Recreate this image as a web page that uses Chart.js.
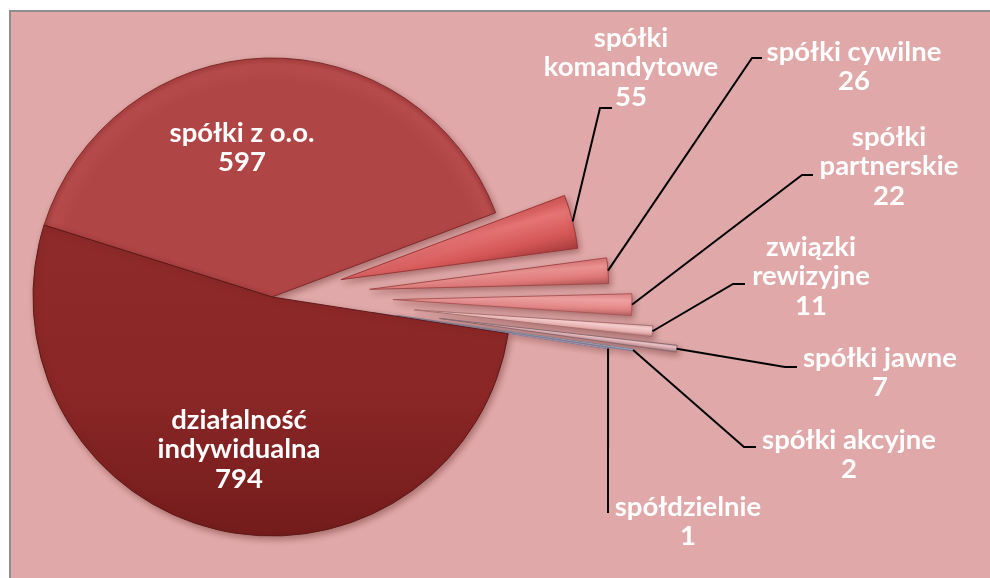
<!DOCTYPE html>
<html>
<head>
<meta charset="utf-8">
<script src="https://cdn.jsdelivr.net/npm/chart.js@4/dist/chart.umd.min.js"></script>
<style>
  html, body { margin: 0; padding: 0; background: #ffffff; }
  #wrap { width: 990px; height: 578px; position: relative; }
</style>
</head>
<body>
<div id="wrap"><canvas id="c" width="990" height="578"></canvas></div>
<script>
// ---- data ----
const categories = [
  ['spółki z o.o.'],
  ['spółki', 'komandytowe'],
  ['spółki cywilne'],
  ['spółki', 'partnerskie'],
  ['związki', 'rewizyjne'],
  ['spółki jawne'],
  ['spółki akcyjne'],
  ['spółdzielnie'],
  ['działalność', 'indywidualna']
];
const values = [597, 55, 26, 22, 11, 7, 2, 1, 794];

// ---- styles / layout (not data) ----
const baseColors  = ['#B04545', '#D45656', '#DE7676', '#E38686', '#EFB6B6', '#D4A2A8', '#8C9AB4', '#A9A9C8', '#8A2626'];
const lightColors = ['#B84C4C', '#E67474', '#EE9696', '#F3A6A6', '#FAD6D6', '#EECBD0', '#AAB6CC', '#C4C4DC', '#8E2A2A'];
const darkColors  = ['#A63E3E', '#A83D3D', '#B45656', '#BE6464', '#B87C7C', '#96727A', '#6A7890', '#7A7A9A', '#741C1C'];
const sliceBorders = ['#7E2A2A', '#9A3636', '#A44A4A', '#AC5858', '#A87070', '#8A6A70', '#6A7890', '#7A7A9A', '#5E1818'];
const explode = [0, 71, 98, 121, 143, 169, 126, 101, 0];   // px the slice is pulled out
const labelPos = [   // centre x, y of first line
  [242, 133], [631, 38], [854, 52], [889, 137], [811, 247], [880, 358], [849, 440], [688, 507], [239, 420]
];
const leaderPts = [  // elbow and end of the leader line (null = no line)
  null, [[600, 108], [612, 108]], [[752, 58], [762, 58]], [[802, 175], [813, 175]],
  [[733, 284], [745, 284]], [[785, 367], [797, 367]], [[744, 447], [756, 447]], [[608, 513]], null
];
const lineGap = 29.5;
const RADIUS = 239;
const ROTATION = 287.5;

// geometry of slice i, derived from the data and the chart area
function sliceGeom(chart, i) {
  const a = chart.chartArea;
  const cx = (a.left + a.right) / 2, cy = (a.top + a.bottom) / 2;
  const total = values.reduce((s, v) => s + v, 0);
  let acc = 0;
  for (let j = 0; j < i; j++) acc += values[j];
  const start = (ROTATION - 90) * Math.PI / 180 + acc / total * 2 * Math.PI;
  const end = start + values[i] / total * 2 * Math.PI;
  const mid = (start + end) / 2;
  const t = explode[i];
  return { cx, cy, start, end, mid, ax: cx + Math.cos(mid) * t, ay: cy + Math.sin(mid) * t };
}

function fillFor(c) {
  const i = c.dataIndex;
  if (i === undefined || !c.chart.chartArea) return baseColors[0];
  const g = sliceGeom(c.chart, i);
  const ctx = c.chart.ctx;
  if (i === 8) {
    const lg = ctx.createLinearGradient(0, g.cy - 40, 0, g.cy + RADIUS);
    lg.addColorStop(0, lightColors[i]);
    lg.addColorStop(0.5, baseColors[i]);
    lg.addColorStop(1, darkColors[i]);
    return lg;
  }
  if (i === 0) {
    const rg = ctx.createRadialGradient(g.cx, g.cy, 0, g.cx, g.cy, RADIUS);
    rg.addColorStop(0, baseColors[i]);
    rg.addColorStop(0.9, baseColors[i]);
    rg.addColorStop(0.975, lightColors[i]);
    rg.addColorStop(1, darkColors[i]);
    return rg;
  }
  const x1 = g.ax + Math.cos(g.start) * RADIUS, y1 = g.ay + Math.sin(g.start) * RADIUS;
  const x2 = g.ax + Math.cos(g.end) * RADIUS, y2 = g.ay + Math.sin(g.end) * RADIUS;
  const lg = ctx.createLinearGradient(x1, y1, x2, y2);
  lg.addColorStop(0, baseColors[i]);
  lg.addColorStop(0.3, lightColors[i]);
  lg.addColorStop(0.7, baseColors[i]);
  lg.addColorStop(1, darkColors[i]);
  return lg;
}

const bgPlugin = {
  id: 'bg',
  beforeDraw(chart) {
    const ctx = chart.ctx;
    ctx.save();
    ctx.fillStyle = '#ffffff';
    ctx.fillRect(0, 0, chart.width, chart.height);
    ctx.fillStyle = '#E0A8A8';
    ctx.fillRect(10, 11, chart.width - 10, chart.height - 11);
    ctx.strokeStyle = '#8E8E8E';
    ctx.lineWidth = 2;
    ctx.beginPath();
    ctx.moveTo(10, chart.height);
    ctx.lineTo(10, 11);
    ctx.lineTo(chart.width, 11);
    ctx.stroke();
    ctx.restore();
  }
};

// keep exploded slices at the pie's radius and full angular width
const radiusFix = {
  id: 'radiusFix',
  beforeDatasetDraw(chart, args) {
    const ctrl = args.meta.controller;
    const R = ctrl.outerRadius;
    args.meta.data.forEach((el, i) => {
      const g = sliceGeom(chart, i);
      const t = (el.options.offset || 0) / 4;
      const fix = 1 - Math.sin(Math.min(Math.PI, el.circumference || 0));
      const ro = t * fix;
      el.outerRadius = R - ro;
      const d = ro / (Math.PI * R);
      el.startAngle = g.start - d / 2;
      el.endAngle = g.end + d / 2;
    });
  },
  beforeDatasetsDraw(chart) {
    const ctx = chart.ctx;
    ctx.save();
    ctx.shadowColor = 'rgba(70,10,10,0.35)';
    ctx.shadowBlur = 6;
    ctx.shadowOffsetX = 2;
    ctx.shadowOffsetY = 3;
  },
  afterDatasetsDraw(chart) {
    chart.ctx.restore();
  }
};

const labelPlugin = {
  id: 'labels',
  afterDraw(chart) {
    const ctx = chart.ctx;
    const meta = chart.getDatasetMeta(0);
    const R = meta.controller.outerRadius;
    ctx.save();
    ctx.strokeStyle = '#000000';
    ctx.lineWidth = 2;
    ctx.lineJoin = 'miter';
    meta.data.forEach((el, i) => {
      const pts = leaderPts[i];
      if (!pts) return;
      const g = sliceGeom(chart, i);
      const ax = g.ax + Math.cos(g.mid) * R;
      const ay = g.ay + Math.sin(g.mid) * R;
      ctx.beginPath();
      ctx.moveTo(ax, ay);
      pts.forEach(p => ctx.lineTo(p[0], p[1]));
      ctx.stroke();
    });
    ctx.fillStyle = '#FFFFFF';
    ctx.font = 'bold 27.5px Lato';
    ctx.textAlign = 'center';
    ctx.textBaseline = 'middle';
    categories.forEach((lines, i) => {
      const [cx, cy] = labelPos[i];
      const all = lines.concat([String(values[i])]);
      all.forEach((s, k) => ctx.fillText(s, cx, cy + k * lineGap));
    });
    ctx.restore();
  }
};

new Chart(document.getElementById('c'), {
  type: 'pie',
  data: {
    labels: categories,
    datasets: [{
      data: values,
      backgroundColor: fillFor,
      borderColor: sliceBorders,
      borderWidth: [1, 1, 1, 1, 1, 1, 0.5, 0.5, 1],
      offset: explode.map(e => e * 4)
    }]
  },
  options: {
    responsive: false,
    animation: false,
    rotation: ROTATION,
    cutout: '0%',
    radius: RADIUS,
    layout: { padding: { left: 33, right: 479, top: 58, bottom: 42 } },
    events: [],
    plugins: { legend: { display: false }, tooltip: { enabled: false } }
  },
  plugins: [bgPlugin, radiusFix, labelPlugin]
});
</script>
</body>
</html>
